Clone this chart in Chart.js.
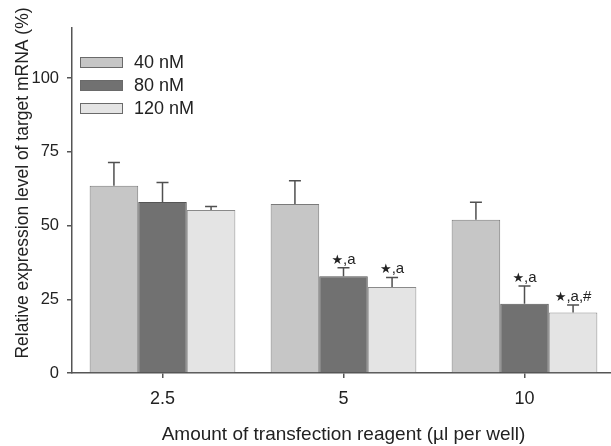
<!DOCTYPE html>
<html>
<head>
<meta charset="utf-8">
<style>
html,body{margin:0;padding:0;background:#fff;overflow:hidden;}
#wrap{width:620px;height:446px;}
</style>
<script src="https://cdn.jsdelivr.net/npm/chart.js@4.4.1/dist/chart.umd.min.js"></script>
</head>
<body>
<div id="wrap"><canvas id="c" width="620" height="446"></canvas></div>
<script>
const categories = ['2.5', '5', '10'];
const seriesLabels = ['40 nM', '80 nM', '120 nM'];
const values40 = [63.5, 57.3, 52.0];
const values80 = [58.0, 32.8, 23.5];
const values120 = [55.3, 29.2, 20.5];
const errors40 = [7.9, 7.9, 5.9];
const errors80 = [6.6, 2.9, 6.0];
const errors120 = [1.2, 3.2, 2.6];
const marks40 = ['', '', ''];
const marks80 = ['', 'a', 'a'];
const marks120 = ['', 'a', 'a,#'];
const yTicks = [0, 25, 50, 75, 100];

const fills = ['#c6c6c6', '#717171', '#e4e4e4'];
const borders = ['#7a7a7a', '#555555', '#8a8a8a'];
const allErrors = [errors40, errors80, errors120];
const allMarks = [marks40, marks80, marks120];
const FONT = '"Liberation Sans", Arial, sans-serif';

const overlay = {
  id: 'overlay',
  afterDatasetsDraw(chart) {
    const ctx = chart.ctx;
    const y = chart.scales.y;
    chart.data.datasets.forEach((ds, di) => {
      const meta = chart.getDatasetMeta(di);
      meta.data.forEach((bar, i) => {
        const v = ds.data[i];
        const top = y.getPixelForValue(v + allErrors[di][i]);
        const base = y.getPixelForValue(v);
        ctx.save();
        ctx.strokeStyle = '#505050';
        ctx.lineWidth = 1.5;
        ctx.beginPath();
        ctx.moveTo(bar.x, base);
        ctx.lineTo(bar.x, top);
        ctx.moveTo(bar.x - 6, top);
        ctx.lineTo(bar.x + 6, top);
        ctx.stroke();
        const m = allMarks[di][i];
        if (m) {
          ctx.fillStyle = '#222';
          ctx.textBaseline = 'alphabetic';
          const star = '\u2605';
          const starFont = 'bold 13px "DejaVu Sans", sans-serif';
          const textFont = '15px ' + FONT;
          ctx.font = starFont;
          const sw = ctx.measureText(star).width;
          ctx.font = textFont;
          const rest = ',' + m;
          const rw = ctx.measureText(rest).width;
          const x0 = bar.x - (sw + rw) / 2;
          const by = top - 4;
          ctx.textAlign = 'left';
          ctx.font = starFont;
          ctx.fillText(star, x0, by);
          ctx.font = textFont;
          ctx.fillText(rest, x0 + sw, by);
        }
        ctx.restore();
      });
    });
    // legend
    ctx.save();
    chart.data.datasets.forEach((ds, di) => {
      const bx = 80, by = 57 + di * 23;
      ctx.fillStyle = ds.backgroundColor;
      ctx.fillRect(bx, by, 43, 11);
      ctx.strokeStyle = '#6a6a6a';
      ctx.lineWidth = 1;
      ctx.strokeRect(bx + 0.5, by + 0.5, 42, 10);
      ctx.fillStyle = '#222';
      ctx.font = '18px ' + FONT;
      ctx.textBaseline = 'middle';
      ctx.textAlign = 'left';
      ctx.fillText(ds.label, 134, by + 6);
    });
    // y title
    ctx.translate(23, 183);
    ctx.rotate(-Math.PI / 2);
    ctx.font = '17.5px ' + FONT;
    ctx.textAlign = 'center';
    ctx.textBaseline = 'middle';
    ctx.fillStyle = '#222';
    ctx.fillText('Relative expression level of target mRNA (%)', 0, 0);
    ctx.restore();
  }
};

new Chart(document.getElementById('c'), {
  type: 'bar',
  data: {
    labels: categories,
    datasets: [values40, values80, values120].map((d, i) => ({
      label: seriesLabels[i],
      data: d,
      backgroundColor: fills[i],
      borderColor: borders[i],
      borderWidth: 1,
      barPercentage: 1,
      categoryPercentage: 0.805
    }))
  },
  options: {
    responsive: false,
    animation: false,
    devicePixelRatio: 1,
    layout: { padding: { top: 28, right: 5, left: 0, bottom: 0 } },
    plugins: { legend: { display: false }, tooltip: { enabled: false } },
    scales: {
      x: {
        grid: { display: true, offset: false, drawOnChartArea: false, drawTicks: true, tickLength: 5, color: '#555', lineWidth: 1.5 },
        border: { display: true, color: '#555', width: 1.5 },
        ticks: { color: '#222', font: { family: FONT, size: 18 }, padding: 10 },
        title: { display: true, text: 'Amount of transfection reagent (\u00b5l per well)', color: '#222', font: { family: FONT, size: 19 }, padding: { top: 8, bottom: 0 } },
        afterFit(s) { s.height = 73; }
      },
      y: {
        min: 0, max: 117,
        grid: { display: true, drawOnChartArea: false, drawTicks: true, tickLength: 5, color: '#555', lineWidth: 1.5 },
        border: { display: true, color: '#555', width: 1.5 },
        ticks: { color: '#222', font: { family: FONT, size: 16.5 }, padding: 8 },
        afterBuildTicks(s) { s.ticks = yTicks.map(v => ({ value: v })); },
        afterFit(s) { s.width = 72; }
      }
    }
  },
  plugins: [overlay]
});
</script>
</body>
</html>
